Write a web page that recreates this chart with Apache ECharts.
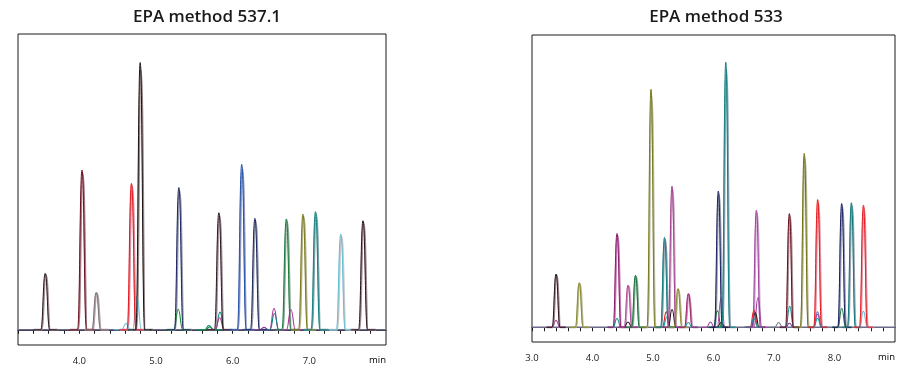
<!DOCTYPE html>
<html><head><meta charset="utf-8">
<script src="https://cdn.jsdelivr.net/npm/echarts@6/dist/echarts.min.js"></script>
<style>html,body{margin:0;padding:0;background:#fff}#c{width:911px;height:370px}</style>
</head><body><div id="c"></div>
<script>
// ---------- DATA ----------
const titles = ['EPA method 537.1', 'EPA method 533'];
const xUnit = 'min';
const tickLabels537 = ['4.0', '5.0', '6.0', '7.0'];
const tickLabels533 = ['3.0', '4.0', '5.0', '6.0', '7.0', '8.0'];

// EPA 537.1 – main (quantifier) peaks: retention time (min), relative height
const rt537 = [3.555, 4.035, 4.22, 4.68, 4.794, 5.298, 5.82, 6.118, 6.29, 6.70, 6.917, 7.08, 7.41, 7.70];
const h537  = [21.1, 59.8, 14.0, 54.8, 100, 53.2, 43.8, 61.9, 41.7, 41.5, 43.3, 44.2, 35.8, 40.8];
// EPA 537.1 – companion (qualifier) traces
const rt537q = [3.564, 4.044, 4.229, 4.689, 4.803, 5.307, 5.829, 6.127, 6.299, 6.709, 6.926, 7.089, 7.419, 7.709];
const h537q  = [20.6, 58.5, 13.7, 53.8, 97.5, 52.0, 42.8, 60.5, 40.8, 40.6, 42.3, 43.2, 35.0, 39.9];
// EPA 537.1 – minor peaks
const rt537m = [4.61, 4.752, 5.29, 5.69, 5.70, 5.835, 5.83, 6.41, 6.54, 6.545, 6.76];
const h537m  = [2.4, 12.4, 7.7, 1.6, 1.1, 6.6, 4.5, 0.9, 8.0, 6.1, 7.6];

// EPA 533 – main peaks
const rt533 = [3.397, 3.78, 4.405, 4.587, 4.71, 4.967, 5.19, 5.314, 5.413, 5.584, 6.08, 6.203, 6.709, 7.254, 7.50, 7.722, 8.119, 8.279, 8.478];
const h533  = [20.1, 16.8, 35.4, 15.9, 19.6, 89.8, 33.9, 53.3, 14.6, 12.7, 51.4, 100, 44.2, 42.9, 65.6, 48.2, 46.7, 47.0, 46.1];
// EPA 533 – companion traces
const rt533q = [3.407, 3.790, 4.415, 4.597, 4.720, 4.977, 5.200, 5.324, 5.423, 5.594, 6.090, 6.213, 6.719, 7.264, 7.510, 7.732, 8.129, 8.289, 8.488];
const h533q  = [19.6, 16.4, 34.6, 15.5, 19.1, 87.6, 33.1, 52.0, 14.2, 12.4, 50.2, 97.5, 43.1, 41.9, 64.0, 47.0, 45.6, 45.9, 45.0];
// EPA 533 – minor peaks
const rt533m = [3.397, 4.405, 4.587, 5.22, 5.23, 5.315, 5.584, 5.95, 6.065, 6.125, 6.125, 6.735, 6.67, 6.69, 6.67, 7.077, 7.26, 7.255, 7.72, 7.72, 7.72, 8.12, 8.478];
const h533m  = [2.6, 3.3, 2.0, 5.8, 3.9, 6.7, 1.8, 2.0, 6.2, 10.8, 1.8, 11.2, 6.4, 5.5, 3.3, 1.8, 7.9, 1.5, 5.8, 4.9, 3.3, 7.1, 6.0];

// ---------- STYLES ----------
const col537  = ['#2a1a20','#6e1020','#7e7078','#e8141c','#1a1214','#1c2460','#2a1a1e','#2050a8','#1c2460','#1a7a3a','#7a7a18','#108080','#60c0d0','#2a1418'];
const col537q = ['#9a8590','#9a6a78','#a89aa2','#d87a8c','#8a7878','#8a90a4','#9a8494','#8088b8','#8a90a0','#78a088','#a8a880','#6a98a0','#c0c0c8','#9a8088'];
const col537m = ['#70c0d8','#70c0d8','#1a8a3a','#108888','#1a8a3a','#108888','#a03a90','#8a3a9a','#b03a9a','#108080','#b03a9a'];
const col533  = ['#2a1418','#8a8a2a','#8a1a70','#b04898','#1a6e40','#7a7a18','#108080','#a04090','#8a8a2a','#a02070','#1a2060','#108080','#a040a0','#6a1020','#707010','#e81a20','#1a2060','#107878','#e81a20'];
const col533q = ['#9a8088','#b0b088','#c070a8','#c890b8','#70a080','#b0b098','#708898','#c898c0','#b0b088','#c070a0','#8a90a0','#7a98a8','#c898c8','#a08088','#b0b090','#e08090','#8890a8','#8898a8','#e08898'];
const col533m = ['#b050a0','#109090','#201418','#e81a20','#10a0a0','#201418','#10a0a0','#a040a0','#1a7a3a','#b050a8','#201418','#a040a0','#e81a20','#201418','#10a0a0','#707880','#108888','#8a3a9a','#6a78b0','#a040a0','#10a0a0','#1a7a3a','#70b8d0'];

const HW = [0.058, 0.065];   // half base width of a peak (min), per panel
const WIN = 0.16;            // baseline stretch drawn with each trace
const LABEL_FONT = { fontFamily: 'Open Sans', fontSize: 9.5, color: '#222' };

function peak(rt, h, color, ax, width, opacity, z) {
  const hw = HW[ax];
  return {
    type: 'line', xAxisIndex: ax, yAxisIndex: ax,
    data: [[rt - WIN, 0], [rt - hw, 0], [rt, h], [rt + hw, 0], [rt + WIN, 0]],
    smooth: 0.5, smoothMonotone: 'x', showSymbol: false, silent: true,
    lineStyle: { color: color, width: width, opacity: opacity },
    emphasis: { disabled: true }, z: z, animation: false
  };
}

const series = [];
const ranges = [[3.2, 8.0], [3.0, 9.0]];
const yRanges = [[-5.7, 110.7], [-5.55, 110.3]];
[0, 1].forEach(ax => {
  series.push({
    type: 'line', xAxisIndex: ax, yAxisIndex: ax, data: [[ranges[ax][0], 0], [ranges[ax][1], 0]],
    showSymbol: false, silent: true, lineStyle: { color: '#6c6a8a', width: 1.5 }, z: 1, animation: false
  });
});
rt537q.forEach((t, i) => series.push(peak(t, h537q[i], col537q[i], 0, 2, 0.9, 2)));
rt537m.forEach((t, i) => series.push(peak(t, h537m[i], col537m[i], 0, 1.1, 1, 3)));
rt537.forEach((t, i) => series.push(peak(t, h537[i], col537[i], 0, 1, 1, 4)));
rt533q.forEach((t, i) => series.push(peak(t, h533q[i], col533q[i], 1, 2, 0.9, 2)));
rt533m.forEach((t, i) => series.push(peak(t, h533m[i], col533m[i], 1, 1.1, 1, 3)));
rt533.forEach((t, i) => series.push(peak(t, h533[i], col533[i], 1, 1, 1, 4)));

function xAxis(ax, labels) {
  return {
    type: 'value', gridIndex: ax, min: ranges[ax][0], max: ranges[ax][1], interval: 0.2,
    axisLine: { show: true, lineStyle: { color: '#1a1a1a', width: 1 } },
    axisTick: { show: true, inside: false, length: 4, lineStyle: { color: '#1a1a1a' } },
    splitLine: { show: false },
    axisLabel: Object.assign({
      show: true, margin: 11, showMaxLabel: false,
      formatter: v => { const s = v.toFixed(1); return labels.includes(s) ? s : ''; }
    }, LABEL_FONT)
  };
}

const option = {
  animation: false,
  backgroundColor: '#fff',
  title: [
    { text: titles[0], left: 202, top: 4, textAlign: 'center', textStyle: { fontFamily: 'Open Sans', fontWeight: 600, fontSize: 17, color: '#1a1a1a' } },
    { text: titles[1], left: 711, top: 4, textAlign: 'center', textStyle: { fontFamily: 'Open Sans', fontWeight: 600, fontSize: 17, color: '#1a1a1a' } }
  ],
  grid: [
    { left: 18, top: 34, width: 368, height: 311, show: true, borderColor: '#1a1a1a', borderWidth: 1, containLabel: false },
    { left: 532, top: 35, width: 363, height: 307, show: true, borderColor: '#1a1a1a', borderWidth: 1, containLabel: false }
  ],
  xAxis: [xAxis(0, tickLabels537), xAxis(1, tickLabels533)],
  yAxis: [
    { type: 'value', gridIndex: 0, min: yRanges[0][0], max: yRanges[0][1], show: false },
    { type: 'value', gridIndex: 1, min: yRanges[1][0], max: yRanges[1][1], show: false }
  ],
  series: series
};
const chart = echarts.init(document.getElementById('c'), null, { renderer: 'canvas' });
chart.setOption(option);

// unit label "min" placed where the last tick label would be, right-aligned to the axis end
const unitLabels = [0, 1].map(ax => {
  const p = chart.convertToPixel({ gridIndex: ax }, [ranges[ax][1], yRanges[ax][0]]);
  return {
    type: 'text', x: p[0], y: p[1] + 15.5, silent: true,
    style: Object.assign({ text: xUnit, align: 'right', verticalAlign: 'middle' }, LABEL_FONT)
  };
});
chart.setOption({ graphic: unitLabels });
</script>
</body></html>
